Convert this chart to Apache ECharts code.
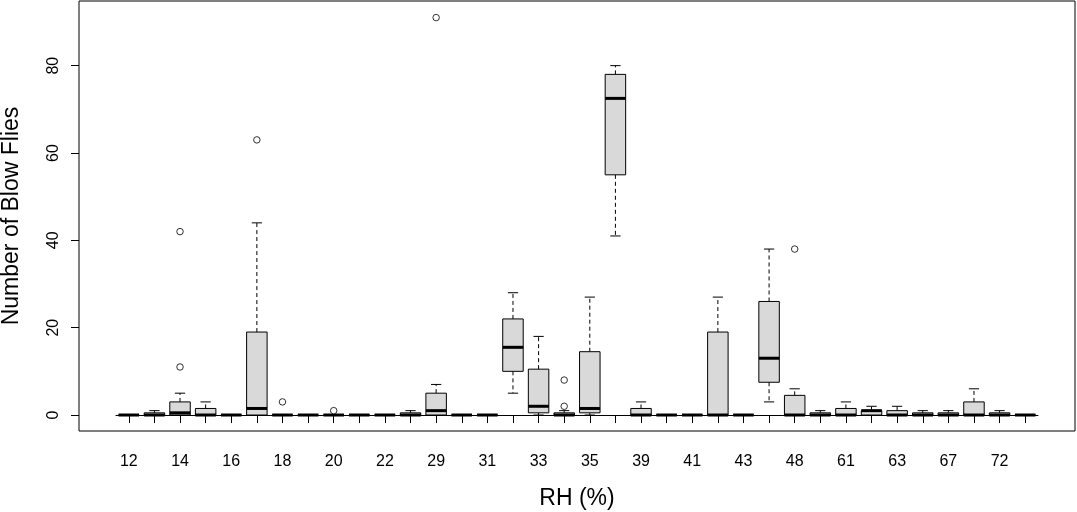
<!DOCTYPE html>
<html>
<head>
<meta charset="utf-8">
<script src="https://cdn.jsdelivr.net/npm/echarts@6/dist/echarts.min.js"></script>
<style>
html,body{margin:0;padding:0;background:#fff;}
#chart{width:1077px;height:512px;}
</style>
</head>
<body>
<div id="chart"></div>
<script>
// Relative humidity categories (only every other label is shown, as in the reference)
const categories = ["12","13","14","15","16","17","18","19","20","21","22","28","29","30","31","32","33","34","35","37","39","40","41","42","43","46","48","55","61","62","63","65","67","70","72","75"];
// Box statistics per category
const whiskerLow  = [0,0,0,0,0,0,0,0,0,0,0,0,0,0,0,5,0,0,0,41,0,0,0,0,0,3,0,0,0,0,0,0,0,0,0,0];
const quart1      = [0,0,0,0,0,0,0,0,0,0,0,0,0,0,0,10,0.5,0,0.5,55,0,0,0,0,0,7.5,0,0,0,0,0,0,0,0,0,0];
const medians     = [0,0,0.5,0,0,1.5,0,0,0,0,0,0,1,0,0,15.5,2,0,1.5,72.5,0,0,0,0,0,13,0,0,0,1,0,0,0,0,0,0];
const quart3      = [0,0.5,3,1.5,0,19,0,0,0,0,0,0.5,5,0,0,22,10.5,0.5,14.5,78,1.5,0,0,19,0,26,4.5,0.5,1.5,1,1,0.5,0.5,3,0.5,0];
const whiskerHigh = [0,1,5,3,0,44,0,0,0,0,0,1,7,0,0,28,18,1,27,80,3,0,0,27,0,38,6,1,3,2,2,1,1,6,1,0];
// Outliers: category index and value
const outlierCat  = [2,2,5,6,8,12,17,17,26];
const outlierVal  = [11,42,63,3,1,91,2,8,38];
const yTicks = [0,20,40,60,80];

const boxData = categories.map((c,i)=>[i, whiskerLow[i], quart1[i], medians[i], quart3[i], whiskerHigh[i]]);
const outlierData = outlierCat.map((c,i)=>[c, outlierVal[i]]);

const chart = echarts.init(document.getElementById('chart'), null, {renderer:'canvas'});
const FONT = '"Liberation Sans", Arial, sans-serif';

const option = {
  backgroundColor:'#fff',
  animation:false,
  grid:[
    {left:116, right:39, top:1, bottom:81, show:false, containLabel:false, outerBoundsMode:'none'},
    {left:79, right:2, top:1, bottom:81, show:true, borderColor:'#000', borderWidth:1, backgroundColor:'transparent', containLabel:false, outerBoundsMode:'none'}
  ],
  xAxis:[
    {
      type:'category', gridIndex:0, data:categories, boundaryGap:true,
      name:'RH (%)', nameLocation:'middle', nameGap:56,
      nameTextStyle:{fontFamily:FONT, fontSize:23, color:'#000'},
      axisLine:{show:true, lineStyle:{color:'#000', width:1}},
      axisTick:{show:true, alignWithLabel:true, interval:0, length:8, lineStyle:{color:'#000'}},
      axisLabel:{interval:1, margin:23, fontFamily:FONT, fontSize:16, color:'#000', hideOverlap:false},
      splitLine:{show:false}
    },
    {type:'value', gridIndex:1, show:false, min:0, max:1}
  ],
  yAxis:[
    {
      type:'value', gridIndex:0, min:-3.66, max:94.8, offset:37,
      name:'Number of Blow Flies', nameLocation:'middle', nameGap:56, nameRotate:90,
      nameTextStyle:{fontFamily:FONT, fontSize:23, color:'#000'},
      axisLine:{show:false},
      axisTick:{show:true, length:8, customValues:yTicks, lineStyle:{color:'#000'}},
      axisLabel:{show:true, customValues:yTicks, rotate:90, margin:17, fontFamily:FONT, fontSize:16, color:'#000'},
      splitLine:{show:false}
    },
    {type:'value', gridIndex:1, show:false, min:0, max:1}
  ],
  series:[
    {
      type:'custom', xAxisIndex:0, yAxisIndex:0,
      data:boxData,
      encode:{x:0, y:[1,2,3,4,5]},
      renderItem:function(params, api){
        const idx = api.value(0);
        const lo = api.coord([idx, api.value(1)]);
        const q1 = api.coord([idx, api.value(2)]);
        const md = api.coord([idx, api.value(3)]);
        const q3 = api.coord([idx, api.value(4)]);
        const hi = api.coord([idx, api.value(5)]);
        const band = api.size([1,0])[0];
        const bw = band*0.8;
        const x = md[0];
        const children = [];
        const dashed = {stroke:'#000', lineWidth:1, lineDash:[4,3]};
        const solid = {stroke:'#000', lineWidth:1};
        if (hi[1] < q3[1]) children.push({type:'line', shape:{x1:x,y1:q3[1],x2:x,y2:hi[1]}, style:dashed});
        if (lo[1] > q1[1]) children.push({type:'line', shape:{x1:x,y1:q1[1],x2:x,y2:lo[1]}, style:dashed});
        children.push({type:'line', shape:{x1:x-bw/4,y1:hi[1],x2:x+bw/4,y2:hi[1]}, style:solid});
        children.push({type:'line', shape:{x1:x-bw/4,y1:lo[1],x2:x+bw/4,y2:lo[1]}, style:solid});
        children.push({type:'rect', shape:{x:x-bw/2, y:q3[1], width:bw, height:Math.max(q1[1]-q3[1],0)}, style:{fill:'#D9D9D9', stroke:'#000', lineWidth:1}});
        children.push({type:'line', shape:{x1:x-bw/2,y1:md[1],x2:x+bw/2,y2:md[1]}, style:{stroke:'#000', lineWidth:3}});
        return {type:'group', children:children};
      },
      z:2
    },
    {
      type:'scatter', xAxisIndex:0, yAxisIndex:0,
      data:outlierData,
      symbol:'circle', symbolSize:6.5,
      itemStyle:{color:'#fff', borderColor:'#000', borderWidth:1},
      z:3
    }
  ]
};
chart.setOption(option);
</script>
</body>
</html>
